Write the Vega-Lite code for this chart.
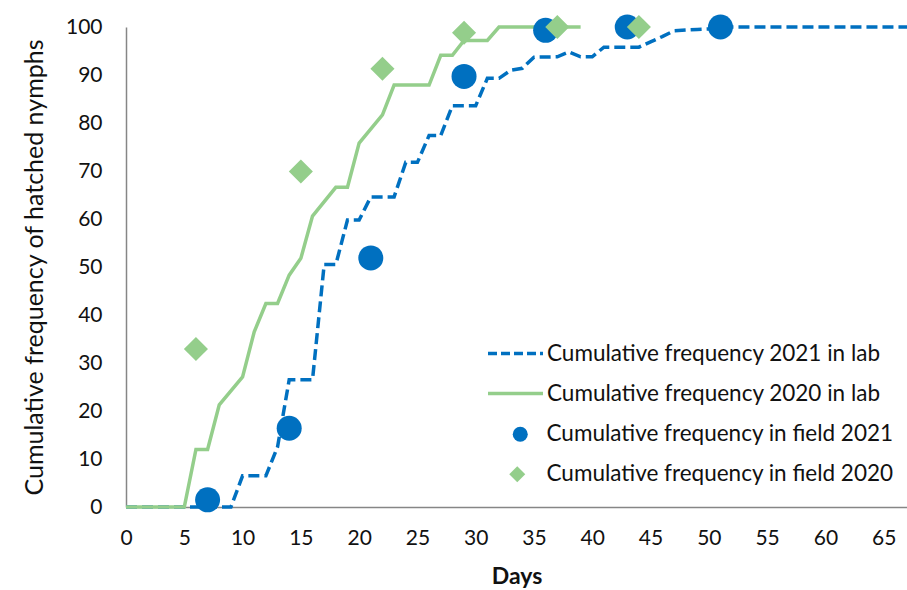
{
  "$schema": "https://vega.github.io/schema/vega-lite/v6.json",
  "width": 781,
  "height": 480,
  "autosize": "none",
  "padding": {"left": 126, "top": 27, "right": 0, "bottom": 83},
  "background": "white",
  "config": {
    "view": {"stroke": null},
    "font": "Lato",
    "axis": {
      "grid": false,
      "domainColor": "#868686",
      "domainWidth": 1.5,
      "ticks": false,
      "labelColor": "#111111",
      "labelFont": "Lato",
      "labelFontSize": 21,
      "titleFont": "Lato",
      "titleColor": "#111111"
    },
    "legend": {
      "orient": "none",
      "padding": 0,
      "labelFont": "Lato",
      "labelFontSize": 22.5,
      "labelColor": "#111111",
      "labelLimit": 500,
      "symbolOpacity": 1
    }
  },
  "resolve": {"scale": {"color": "independent"}, "legend": {"color": "independent"}},
  "data": {
    "values": [
      {"series": "Cumulative frequency 2021 in lab", "day": 0, "value": 0},
      {"series": "Cumulative frequency 2021 in lab", "day": 9, "value": 0},
      {"series": "Cumulative frequency 2021 in lab", "day": 10, "value": 6.5},
      {"series": "Cumulative frequency 2021 in lab", "day": 12, "value": 6.5},
      {"series": "Cumulative frequency 2021 in lab", "day": 13, "value": 12.5},
      {"series": "Cumulative frequency 2021 in lab", "day": 14, "value": 26.5},
      {"series": "Cumulative frequency 2021 in lab", "day": 16, "value": 26.5},
      {"series": "Cumulative frequency 2021 in lab", "day": 17, "value": 50.5},
      {"series": "Cumulative frequency 2021 in lab", "day": 18, "value": 50.5},
      {"series": "Cumulative frequency 2021 in lab", "day": 19, "value": 59.8},
      {"series": "Cumulative frequency 2021 in lab", "day": 20, "value": 59.8},
      {"series": "Cumulative frequency 2021 in lab", "day": 21, "value": 64.6},
      {"series": "Cumulative frequency 2021 in lab", "day": 23, "value": 64.6},
      {"series": "Cumulative frequency 2021 in lab", "day": 24, "value": 71.8},
      {"series": "Cumulative frequency 2021 in lab", "day": 25, "value": 71.8},
      {"series": "Cumulative frequency 2021 in lab", "day": 26, "value": 77.4},
      {"series": "Cumulative frequency 2021 in lab", "day": 27, "value": 77.4},
      {"series": "Cumulative frequency 2021 in lab", "day": 28, "value": 83.6},
      {"series": "Cumulative frequency 2021 in lab", "day": 30, "value": 83.6},
      {"series": "Cumulative frequency 2021 in lab", "day": 31, "value": 89.3},
      {"series": "Cumulative frequency 2021 in lab", "day": 32, "value": 89.3},
      {"series": "Cumulative frequency 2021 in lab", "day": 33, "value": 91},
      {"series": "Cumulative frequency 2021 in lab", "day": 34, "value": 91.4},
      {"series": "Cumulative frequency 2021 in lab", "day": 35, "value": 93.7},
      {"series": "Cumulative frequency 2021 in lab", "day": 37, "value": 93.8},
      {"series": "Cumulative frequency 2021 in lab", "day": 38, "value": 94.8},
      {"series": "Cumulative frequency 2021 in lab", "day": 39, "value": 93.8},
      {"series": "Cumulative frequency 2021 in lab", "day": 40, "value": 93.8},
      {"series": "Cumulative frequency 2021 in lab", "day": 41, "value": 95.8},
      {"series": "Cumulative frequency 2021 in lab", "day": 44, "value": 95.8},
      {"series": "Cumulative frequency 2021 in lab", "day": 45, "value": 96.9},
      {"series": "Cumulative frequency 2021 in lab", "day": 46, "value": 98},
      {"series": "Cumulative frequency 2021 in lab", "day": 47, "value": 99.2},
      {"series": "Cumulative frequency 2021 in lab", "day": 49, "value": 99.5},
      {"series": "Cumulative frequency 2021 in lab", "day": 50, "value": 99.6},
      {"series": "Cumulative frequency 2021 in lab", "day": 51, "value": 100},
      {"series": "Cumulative frequency 2021 in lab", "day": 67, "value": 100},
      {"series": "Cumulative frequency 2020 in lab", "day": 0, "value": 0},
      {"series": "Cumulative frequency 2020 in lab", "day": 5, "value": 0},
      {"series": "Cumulative frequency 2020 in lab", "day": 6, "value": 12},
      {"series": "Cumulative frequency 2020 in lab", "day": 7, "value": 12},
      {"series": "Cumulative frequency 2020 in lab", "day": 8, "value": 21.3},
      {"series": "Cumulative frequency 2020 in lab", "day": 10, "value": 27.1},
      {"series": "Cumulative frequency 2020 in lab", "day": 11, "value": 36.5},
      {"series": "Cumulative frequency 2020 in lab", "day": 12, "value": 42.4},
      {"series": "Cumulative frequency 2020 in lab", "day": 13, "value": 42.4},
      {"series": "Cumulative frequency 2020 in lab", "day": 14, "value": 48.3},
      {"series": "Cumulative frequency 2020 in lab", "day": 15, "value": 51.8},
      {"series": "Cumulative frequency 2020 in lab", "day": 16, "value": 60.6},
      {"series": "Cumulative frequency 2020 in lab", "day": 18, "value": 66.6},
      {"series": "Cumulative frequency 2020 in lab", "day": 19, "value": 66.6},
      {"series": "Cumulative frequency 2020 in lab", "day": 20, "value": 75.8},
      {"series": "Cumulative frequency 2020 in lab", "day": 22, "value": 81.7},
      {"series": "Cumulative frequency 2020 in lab", "day": 23, "value": 87.9},
      {"series": "Cumulative frequency 2020 in lab", "day": 26, "value": 87.9},
      {"series": "Cumulative frequency 2020 in lab", "day": 27, "value": 94.1},
      {"series": "Cumulative frequency 2020 in lab", "day": 28, "value": 94.1},
      {"series": "Cumulative frequency 2020 in lab", "day": 29, "value": 97.2},
      {"series": "Cumulative frequency 2020 in lab", "day": 31, "value": 97.2},
      {"series": "Cumulative frequency 2020 in lab", "day": 32, "value": 100},
      {"series": "Cumulative frequency 2020 in lab", "day": 39, "value": 100},
      {"series": "Cumulative frequency in field 2021", "day": 7, "value": 1.5},
      {"series": "Cumulative frequency in field 2021", "day": 14, "value": 16.4},
      {"series": "Cumulative frequency in field 2021", "day": 21, "value": 51.9},
      {"series": "Cumulative frequency in field 2021", "day": 29, "value": 89.7},
      {"series": "Cumulative frequency in field 2021", "day": 36, "value": 99.3},
      {"series": "Cumulative frequency in field 2021", "day": 43, "value": 100},
      {"series": "Cumulative frequency in field 2021", "day": 51, "value": 100},
      {"series": "Cumulative frequency in field 2020", "day": 6, "value": 32.9},
      {"series": "Cumulative frequency in field 2020", "day": 15, "value": 69.9},
      {"series": "Cumulative frequency in field 2020", "day": 22, "value": 91.3},
      {"series": "Cumulative frequency in field 2020", "day": 29, "value": 98.8},
      {"series": "Cumulative frequency in field 2020", "day": 37, "value": 100},
      {"series": "Cumulative frequency in field 2020", "day": 44, "value": 100}
    ]
  },
  "encoding": {
    "x": {
      "field": "day",
      "type": "quantitative",
      "scale": {"domain": [0, 67], "nice": false, "zero": false},
      "axis": {
        "values": [0, 5, 10, 15, 20, 25, 30, 35, 40, 45, 50, 55, 60, 65],
        "labelPadding": 20,
        "labelFlush": false,
        "title": "Days",
        "titleFontSize": 23,
        "titleFontWeight": "bold",
        "titlePadding": 17
      }
    },
    "y": {
      "field": "value",
      "type": "quantitative",
      "scale": {"domain": [0, 100], "nice": false},
      "axis": {
        "values": [0, 10, 20, 30, 40, 50, 60, 70, 80, 90, 100],
        "labelPadding": 24,
        "title": "Cumulative frequency of hatched nymphs",
        "titleFontSize": 25,
        "titleFontWeight": "normal",
        "titlePadding": 18
      }
    }
  },
  "layer": [
    {
      "transform": [{"filter": "datum.series == 'Cumulative frequency 2021 in lab'"}],
      "mark": {"type": "line", "strokeWidth": 3.5, "strokeDash": [11, 5]},
      "encoding": {
        "color": {
          "field": "series", "type": "nominal",
          "scale": {"range": ["#0070C0"]},
          "legend": {"title": null, "legendX": 360, "legendY": 297, "symbolType": "stroke", "symbolSize": 3025, "symbolStrokeWidth": 3.5, "symbolDash": [9, 4], "labelOffset": 2}
        }
      }
    },
    {
      "transform": [{"filter": "datum.series == 'Cumulative frequency 2020 in lab'"}],
      "mark": {"type": "line", "strokeWidth": 3.5},
      "encoding": {
        "color": {
          "field": "series", "type": "nominal",
          "scale": {"range": ["#94CE8B"]},
          "legend": {"title": null, "legendX": 360, "legendY": 337, "symbolType": "stroke", "symbolSize": 3025, "symbolStrokeWidth": 3.5, "labelOffset": 2}
        }
      }
    },
    {
      "transform": [{"filter": "datum.series == 'Cumulative frequency in field 2021'"}],
      "mark": {"type": "point", "shape": "circle", "filled": true, "size": 625, "opacity": 1},
      "encoding": {
        "color": {
          "field": "series", "type": "nominal",
          "scale": {"range": ["#0070C0"]},
          "legend": {"title": null, "legendX": 383, "legendY": 396, "symbolType": "circle", "symbolSize": 225, "symbolStrokeWidth": 0, "labelOffset": 15}
        }
      }
    },
    {
      "transform": [{"filter": "datum.series == 'Cumulative frequency in field 2020'"}],
      "mark": {"type": "point", "shape": "diamond", "filled": true, "size": 580, "opacity": 1},
      "encoding": {
        "color": {
          "field": "series", "type": "nominal",
          "scale": {"range": ["#94CE8B"]},
          "legend": {"title": null, "legendX": 380, "legendY": 436, "symbolType": "diamond", "symbolSize": 256, "symbolStrokeWidth": 0, "labelOffset": 18}
        }
      }
    }
  ]
}
